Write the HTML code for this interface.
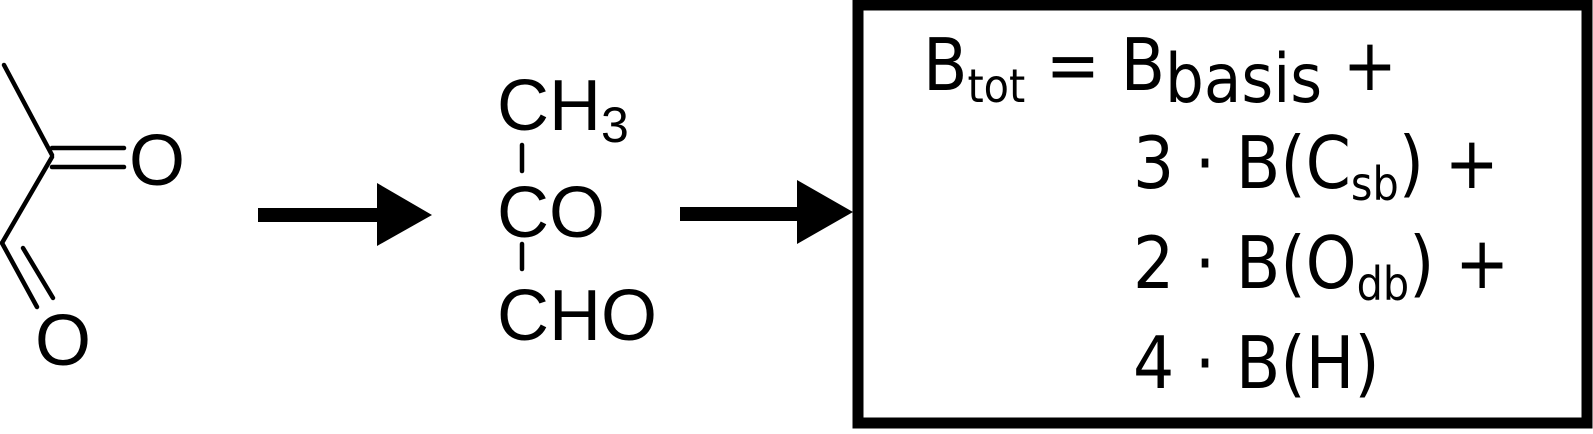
<!DOCTYPE html>
<html><head><meta charset="utf-8"><style>
html,body{margin:0;padding:0;background:#fff;}
svg{display:block;}
.s{font-family:"Liberation Sans",Arial,sans-serif;font-size:72px;fill:#000;}
.d{font-family:"DejaVu Sans Condensed","DejaVu Sans",sans-serif;font-stretch:condensed;font-size:72px;fill:#000;}
</style></head><body>
<svg width="1593" height="434" viewBox="0 0 1593 434" xmlns="http://www.w3.org/2000/svg">
<g stroke="#000" stroke-width="4.5" fill="none" stroke-linecap="round">
<line x1="4" y1="65" x2="52" y2="155"/>
<line x1="52" y1="148" x2="124" y2="148"/>
<line x1="52" y1="167" x2="124" y2="167"/>
<line x1="52" y1="157" x2="2" y2="243"/>
<line x1="2" y1="243" x2="37" y2="307"/>
<line x1="23" y1="248" x2="53" y2="298"/>
<line x1="522" y1="145" x2="522" y2="171"/>
<line x1="522" y1="244" x2="522" y2="269"/>
</g>
<text class="s" x="129" y="185">O</text>
<text class="s" x="35" y="365">O</text>
<text class="s" x="497" y="130">CH<tspan font-size="50" dy="12">3</tspan></text>
<text class="s" x="497" y="237">CO</text>
<text class="s" x="497" y="340">CHO</text>
<rect x="258" y="208" width="122" height="14" fill="#000"/>
<polygon points="377,183 432,215 377,246" fill="#000"/>
<rect x="680" y="207" width="120" height="14" fill="#000"/>
<polygon points="797,180 853,212 797,244" fill="#000"/>
<rect x="858" y="5" width="729" height="418" fill="none" stroke="#000" stroke-width="11"/>
<text class="d" x="923" y="90">B<tspan font-size="46" dy="12">tot</tspan><tspan dy="-12"> = B</tspan><tspan font-size="68" dy="12">basis</tspan><tspan dy="-12"> +</tspan></text>
<text class="d" x="1133" y="188">3 · B(C<tspan font-size="46" dy="12">sb</tspan><tspan dy="-12">) +</tspan></text>
<text class="d" x="1133" y="288">2 · B(O<tspan font-size="46" dy="12">db</tspan><tspan dy="-12">) +</tspan></text>
<text class="d" x="1133" y="388">4 · B(H)</text>
</svg>
</body></html>
